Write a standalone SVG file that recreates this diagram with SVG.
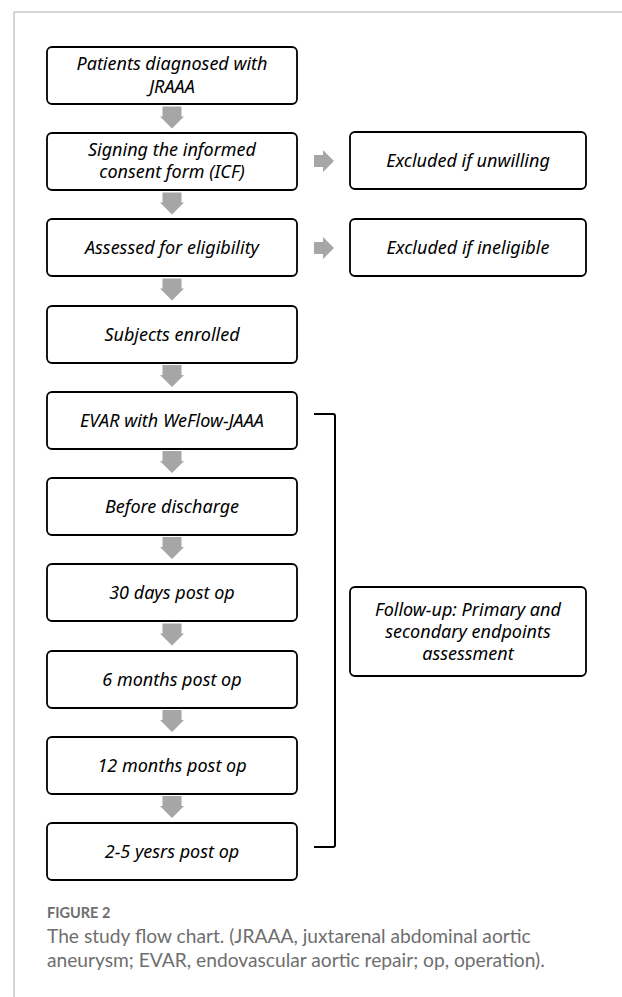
<svg xmlns="http://www.w3.org/2000/svg" width="622" height="997" viewBox="0 0 622 997">
<style>
.box{fill:#fff;stroke:#000;stroke-width:1.8}
.t{font-family:"Noto Sans","Open Sans","DejaVu Sans",sans-serif;font-style:italic;font-size:18px;fill:#000;text-anchor:middle}
.arr{fill:#a6a6a6}
.frame{stroke:#c8c8c8;stroke-width:1.5;fill:none}
.cap{font-family:Lato,"Open Sans",sans-serif;fill:#6e6e6e}
</style>
<defs>
<path id="dn" d="M-9.5,0 H9.5 V10 H12 L0,22 L-12,10 H-9.5 Z"/>
<path id="rt" d="M0,-6 H9 V-11 L20,0 L9,11 V6 H0 Z"/>
</defs>
<path class="frame" d="M14,997 V12 H622"/>
<g id="n1"><rect class="box" x="47" y="47" width="250" height="57" rx="5"/><text class="t" x="172" y="70">Patients diagnosed with</text><text class="t" x="172" y="93">JRAAA</text></g>
<g id="n2"><rect class="box" x="47" y="133" width="250" height="57" rx="5"/><text class="t" x="172" y="156">Signing the informed</text><text class="t" x="172" y="178">consent form (ICF)</text></g>
<g id="n3"><rect class="box" x="47" y="219" width="250" height="57" rx="5"/><text class="t" x="172" y="254">Assessed for eligibility</text></g>
<g id="n4"><rect class="box" x="47" y="306" width="250" height="57" rx="5"/><text class="t" x="172" y="341">Subjects enrolled</text></g>
<g id="n5"><rect class="box" x="47" y="392" width="250" height="57" rx="5"/><text class="t" x="172" y="427">EVAR with WeFlow-JAAA</text></g>
<g id="n6"><rect class="box" x="47" y="478" width="250" height="57" rx="5"/><text class="t" x="172" y="513">Before discharge</text></g>
<g id="n7"><rect class="box" x="47" y="564" width="250" height="57" rx="5"/><text class="t" x="172" y="599">30 days post op</text></g>
<g id="n8"><rect class="box" x="47" y="651" width="250" height="57" rx="5"/><text class="t" x="172" y="686">6 months post op</text></g>
<g id="n9"><rect class="box" x="47" y="737" width="250" height="57" rx="5"/><text class="t" x="172" y="772">12 months post op</text></g>
<g id="n10"><rect class="box" x="47" y="823" width="250" height="57" rx="5"/><text class="t" x="172" y="858">2-5 yesrs post op</text></g>
<g id="n11"><rect class="box" x="350" y="132" width="236" height="57" rx="5"/><text class="t" x="468" y="167">Excluded if unwilling</text></g>
<g id="n12"><rect class="box" x="350" y="219" width="236" height="57" rx="5"/><text class="t" x="468" y="254">Excluded if ineligible</text></g>
<g id="n13"><rect class="box" x="350" y="587" width="236" height="89" rx="5"/><text class="t" x="468" y="616">Follow-up: Primary and</text><text class="t" x="468" y="638">secondary endpoints</text><text class="t" x="468" y="660">assessment</text></g>
<g id="connectors">
<use href="#dn" class="arr" x="172" y="106.5"/>
<use href="#dn" class="arr" x="172" y="192.5"/>
<use href="#dn" class="arr" x="172" y="278.5"/>
<use href="#dn" class="arr" x="172" y="365"/>
<use href="#dn" class="arr" x="172" y="451"/>
<use href="#dn" class="arr" x="172" y="537"/>
<use href="#dn" class="arr" x="172" y="623.5"/>
<use href="#dn" class="arr" x="172" y="710"/>
<use href="#dn" class="arr" x="172" y="796"/>
<use href="#rt" class="arr" x="314" y="161"/>
<use href="#rt" class="arr" x="314" y="248"/>
<path d="M314,414 H333 Q335,414 335,416 V845 Q335,847 333,847 H314" fill="none" stroke="#000" stroke-width="2"/>
</g>
<text class="cap" x="47" y="918" font-size="14.5" font-weight="bold" fill="#777">FIGURE 2</text>
<text class="cap" x="47" y="943" font-size="19.2">The study flow chart. (JRAAA, juxtarenal abdominal aortic</text>
<text class="cap" x="47" y="967" font-size="19.2">aneurysm; EVAR, endovascular aortic repair; op, operation).</text>
</svg>
